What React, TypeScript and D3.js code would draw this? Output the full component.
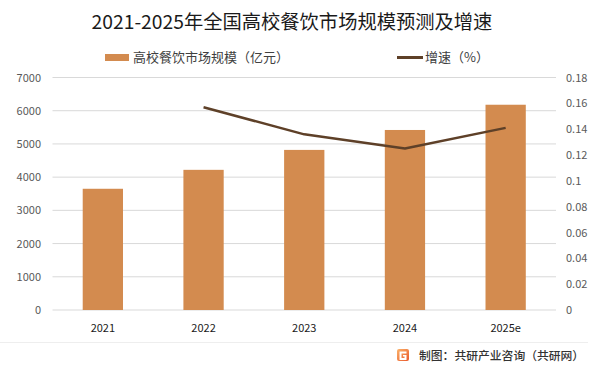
import React from "react";
import { scaleBand, scaleLinear, line } from "d3";

const years = ["2021", "2022", "2023", "2024", "2025e"];
const marketSize = [3650, 4220, 4820, 5420, 6180];
const growth = [null, 0.157, 0.136, 0.125, 0.141];
const leftTicks = [0, 1000, 2000, 3000, 4000, 5000, 6000, 7000];
const rightTicks = [0, 0.02, 0.04, 0.06, 0.08, 0.1, 0.12, 0.14, 0.16, 0.18];

const W = 602;
const H = 374;
const font = "'Noto Sans CJK SC', 'Noto Sans', sans-serif";

export default function App() {
  const x = scaleBand<string>()
    .domain(years)
    .range([52.5, 556])
    .paddingInner(0.6)
    .paddingOuter(0.3);
  const yL = scaleLinear().domain([0, 7000]).range([310, 77.5]);
  const yR = scaleLinear().domain([0, 0.18]).range([310, 77.5]);

  const pts = years
    .map((y, i) => ({ y, v: growth[i] }))
    .filter((d) => d.v !== null) as { y: string; v: number }[];
  const path = line<{ y: string; v: number }>()
    .x((d) => x(d.y)! + x.bandwidth() / 2)
    .y((d) => yR(d.v))(pts);

  return (
    <>
      <style>{"body{margin:0}"}</style>
      <svg width={W} height={H} style={{ display: "block", background: "#fff" }} fontFamily={font}>
        <defs>
          <linearGradient id="logo" x1="0" y1="0" x2="1" y2="1">
            <stop offset="0" stopColor="#fbb36a" />
            <stop offset="1" stopColor="#e9582c" />
          </linearGradient>
        </defs>

        {/* title */}
        <text x={292} y={29} textAnchor="middle" fontSize={19.3} fill="#1a1a1a">
          2021-2025年全国高校餐饮市场规模预测及增速
        </text>

        {/* legend */}
        <rect x={105} y={54} width={24} height={7} fill="#d38b4f" />
        <text x={133} y={62} fontSize={13} fill="#404040">高校餐饮市场规模（亿元）</text>
        <line x1={397} x2={423} y1={57.5} y2={57.5} stroke="#5e4028" strokeWidth={3} />
        <text x={425} y={62} fontSize={13} fill="#404040">增速（%）</text>

        {/* grid */}
        {leftTicks.map((t) => (
          <line key={t} x1={52.5} x2={556} y1={yL(t)} y2={yL(t)} stroke="#d9d9d9" strokeWidth={1} />
        ))}

        {/* left axis labels */}
        {leftTicks.map((t) => (
          <text key={t} x={41} y={yL(t) + 4} textAnchor="end" fontSize={11} fill="#595959">
            {t}
          </text>
        ))}

        {/* right axis labels */}
        {rightTicks.map((t) => (
          <text key={t} x={566} y={yR(t) + 4} fontSize={11} fill="#595959">
            {+t.toFixed(2)}
          </text>
        ))}

        {/* bars */}
        {years.map((y, i) => (
          <rect
            key={y}
            x={x(y)}
            y={yL(marketSize[i])}
            width={x.bandwidth()}
            height={yL(0) - yL(marketSize[i])}
            fill="#d38b4f"
          />
        ))}

        {/* growth line */}
        <path d={path ?? ""} fill="none" stroke="#5e4028" strokeWidth={2.5} strokeLinejoin="round" />

        {/* x labels */}
        {years.map((y) => (
          <text key={y} x={x(y)! + x.bandwidth() / 2} y={332} textAnchor="middle" fontSize={11} fill="#1a1a1a">
            {y}
          </text>
        ))}

        {/* footer */}
        <line x1={0} x2={588} y1={342.5} y2={342.5} stroke="#eeeeee" strokeWidth={1} />
        <rect x={397} y={349} width={12} height={12} rx={2} fill="url(#logo)" />
        <path d="M399.5 351.5 h7 v2 h-5 v4.5 h3 v-1.5 h-1.5 v-1.5 h3.5 v5 h-7 z" fill="#fff" />
        <text x={419} y={360} fontSize={11.8} fontWeight={500} fill="#333">制图：共研产业咨询（共研网）</text>
      </svg>
    </>
  );
}
